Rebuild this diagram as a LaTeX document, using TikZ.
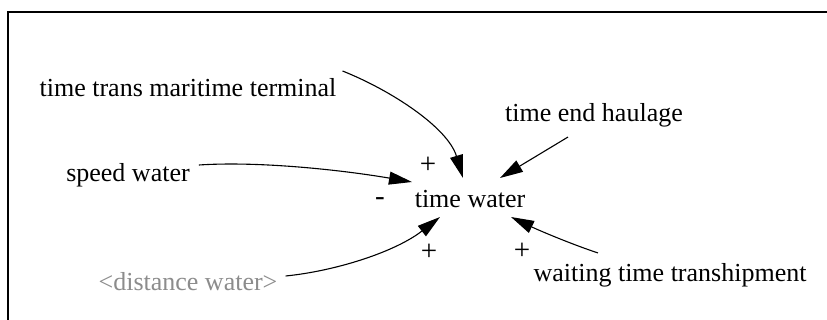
\documentclass[tikz,border=0pt]{standalone}
\usepackage{fontspec}
\setmainfont{Liberation Serif}
\usetikzlibrary{arrows.meta}

\begin{document}
\begin{tikzpicture}[
  x=1pt, y=-1pt,
  var/.style={font=\fontsize{26}{30}\selectfont, inner sep=0pt},
  shadowvar/.style={var, text=black!45},
  sign/.style={font=\fontsize{29}{32}\selectfont, inner sep=0pt},
  link/.style={-{Triangle[length=23pt, width=13pt]}, line width=1.1pt}
]
\useasboundingbox (0,0) rectangle (827,320);
\draw[line width=2.5pt] (8,320) -- (8,12) -- (827,12);

\node[var] (tw) at (470,199) {time water};
\node[var] (ttmt) at (188,88) {time trans maritime terminal};
\node[var] (teh) at (594,115) {time end haulage};
\node[var] (sw) at (128,175) {speed water};
\node[shadowvar] (dw) at (188,282) {<distance water>};
\node[var] (wtt) at (670,275) {waiting time transhipment};

\node[sign] (ptop) at (428,165) {+};
\node[sign] (msw) at (380,202) {-};
\node[sign] (pdw) at (429,252) {+};
\node[sign] (pwtt) at (522,251) {+};

\draw[link] ([shift={(6,-17)}]ttmt.east) .. controls +(50,20) and +(-15,-50) .. ([shift={(-7,-21)}]tw.center);
\draw[link] ([shift={(-26,10)}]teh.south) -- ([shift={(30,-21)}]tw.center);
\draw[link] ([shift={(9,-10)}]sw.east) .. controls +(60,-4) and +(-70,-12) .. ([shift={(-58,-17)}]tw.center);
\draw[link] ([shift={(8,-6)}]dw.east) .. controls +(50,-5) and +(-45,35) .. ([shift={(-30,18)}]tw.center);
\draw[link] ([shift={(-72,-10)}]wtt.north) .. controls +(-30,-10) and +(25,12) .. ([shift={(41,18)}]tw.center);
\end{tikzpicture}
\end{document}
